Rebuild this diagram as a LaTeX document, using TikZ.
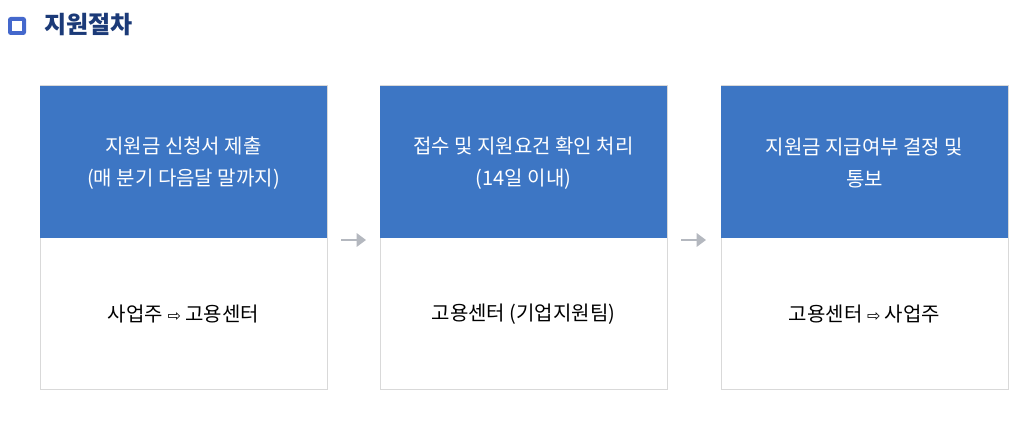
\documentclass[tikz,border=0pt]{standalone}
\usepackage{fontspec}
\usetikzlibrary{arrows.meta}
\setmainfont{Noto Sans CJK KR}
\newfontfamily\symf{DejaVu Sans}
\definecolor{hdr}{HTML}{3D76C4}
\definecolor{brd}{HTML}{D9D9D9}
\definecolor{ttl}{HTML}{1B3A78}
\definecolor{arr}{HTML}{B4B8BF}
\definecolor{icn}{HTML}{4468CC}
\begin{document}
\begin{tikzpicture}[x=0.75pt,y=-0.75pt,
  body/.style={draw=brd,line width=0.75pt,fill=white},
  head/.style={fill=hdr},
  htxt/.style={text=white,font=\fontsize{15pt}{24.5pt}\selectfont,align=center},
  btxt/.style={text=black,font=\fontsize{15pt}{22pt}\selectfont,align=center},
  arrw/.style={draw=arr,line width=2pt,-{Triangle[length=7pt,width=10pt]}}]
\useasboundingbox (0,0) rectangle (1036,423);
\fill[fill=white] (0,0) rectangle (1036,423);
% icon
\fill[rounded corners=2pt,fill=icn] (8,17) rectangle (26,35);
\fill[fill=white] (12,21) rectangle (22,31);
\node[anchor=west,text=ttl,font=\fontsize{18pt}{22pt}\selectfont\bfseries] (title) at (40,25) {지원절차};
% boxes
\foreach \n/\x in {1/40,2/380,3/721}{
  \draw[body] (\x,86) rectangle ++(287,304);
  \fill[head] (\x,86) rectangle ++(287,152);
  \coordinate (h\n) at (\x+143.5,163);
  \coordinate (b\n) at (\x+143.5,314);
}
\node[htxt] (t1) at (h1) {지원금 신청서 제출\\(매 분기 다음달 말까지)};
\node[htxt] (t2) at (h2) {접수 및 지원요건 확인 처리\\(14일 이내)};
\node[htxt] (t3) at (h3) {지원금 지급여부 결정 및\\통보};
\node[btxt] (u1) at (b1) {사업주 {\symf\fontsize{12pt}{14pt}\selectfont ⇨} 고용센터};
\node[btxt] (u2) at (b2) {고용센터 (기업지원팀)};
\node[btxt] (u3) at (b3) {고용센터 {\symf\fontsize{12pt}{14pt}\selectfont ⇨} 사업주};
\coordinate (a1s) at (341,240); \coordinate (a1e) at (366,240);
\coordinate (a2s) at (681,240); \coordinate (a2e) at (706,240);
\draw[arrw] (a1s) -- (a1e);
\draw[arrw] (a2s) -- (a2e);
\end{tikzpicture}
\end{document}
